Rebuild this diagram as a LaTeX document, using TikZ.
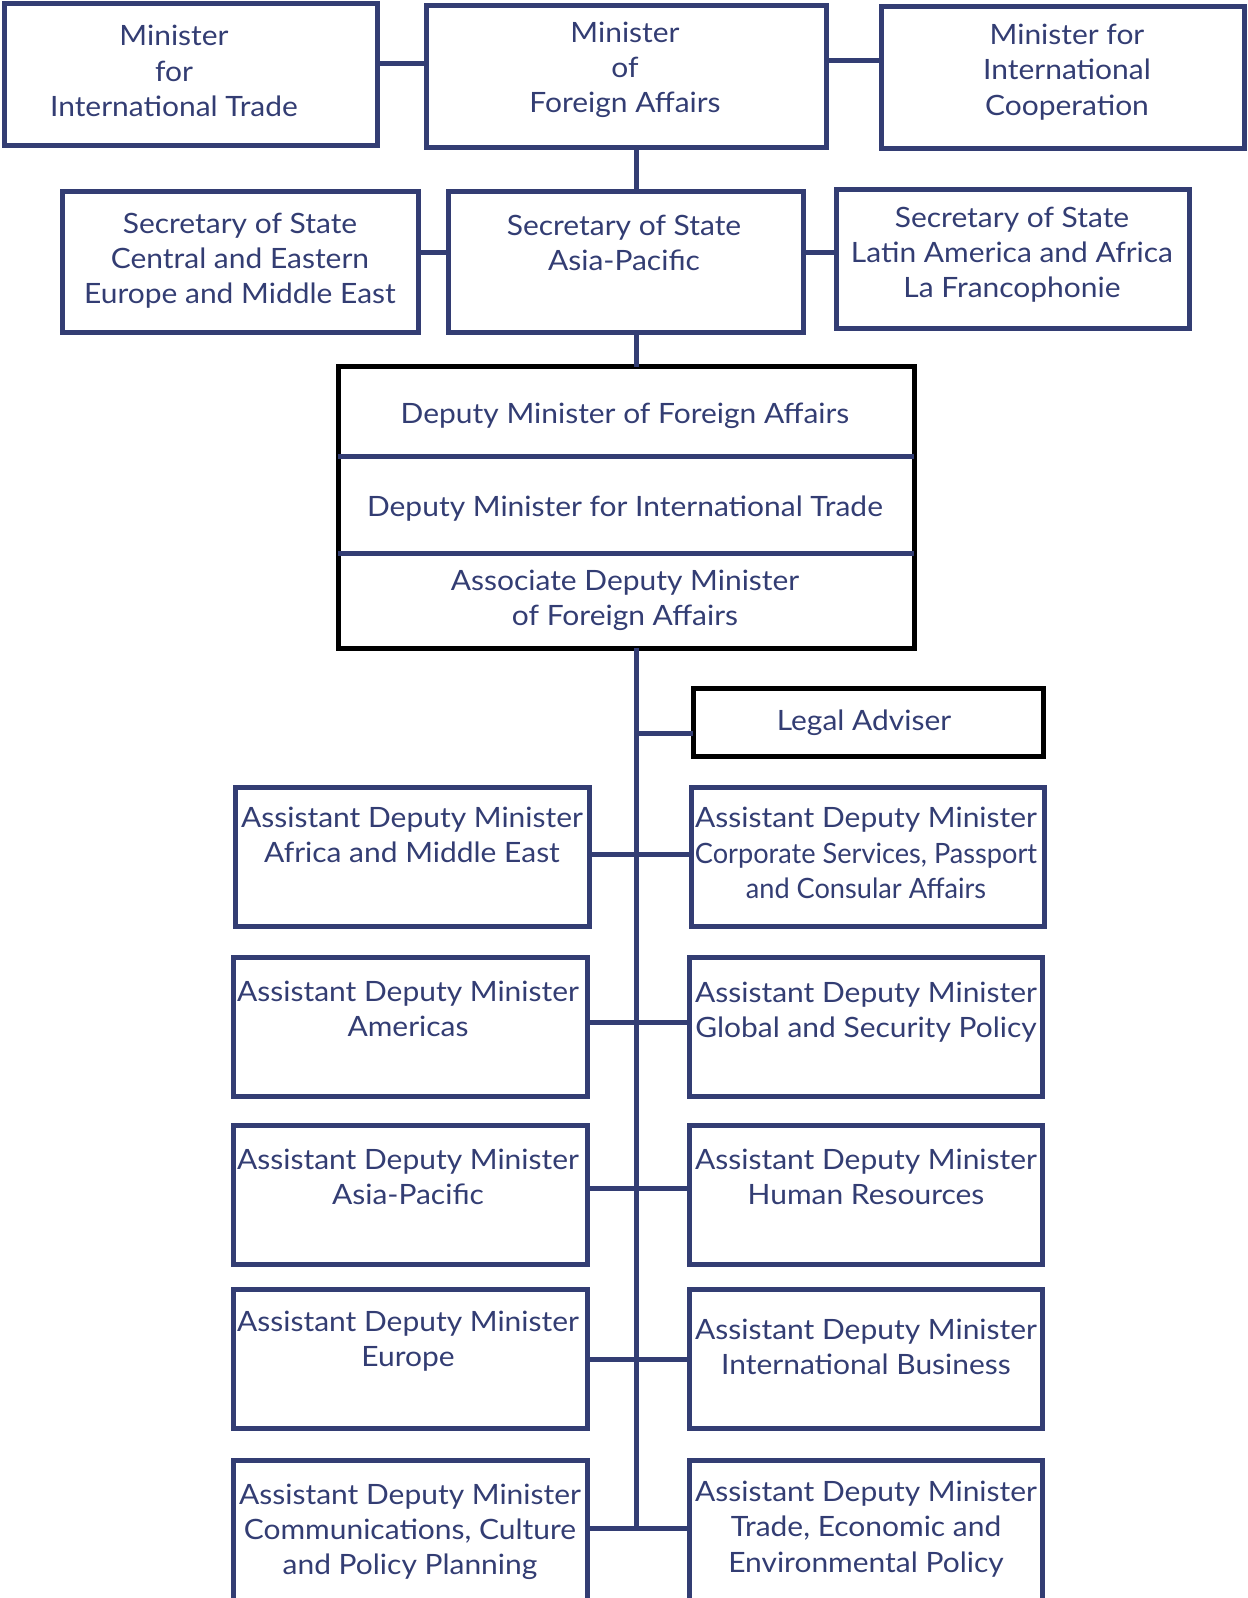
\documentclass[tikz,border=0pt]{standalone}
\usepackage{fontspec}
\setmainfont[FakeStretch=1.07]{Lato}
\newfontfamily\condfont[FakeStretch=0.97]{Lato}
\usetikzlibrary{fit}
\definecolor{navy}{RGB}{51,61,115}
\tikzset{
 orgbox/.style={draw=navy, line width=2.5pt, inner sep=0pt, outer sep=0pt},
 blkbox/.style={draw=black, line width=2.5pt, inner sep=0pt, outer sep=0pt},
 lbl/.style={text=navy, align=center, font=\fontsize{14}{17.6}\selectfont, inner sep=0pt, yshift=-1.5pt},
 conn/.style={draw=navy, line width=2.5pt},
}
\newcommand\mkbox[6]{\path (#2,#3) coordinate (#1a) (#4,#5) coordinate (#1b); \node[#6, fit=(#1a)(#1b)] (#1) {};}
\begin{document}
\begin{tikzpicture}[x=0.5pt,y=-0.5pt]
\useasboundingbox (0,0) rectangle (1247,1598);
\coordinate (spx) at (636,0);
% top row
\mkbox{mA}{4}{4}{377}{146}{orgbox}
\mkbox{mB}{426}{6}{826}{148}{orgbox}
\mkbox{mC}{881}{7}{1244}{149}{orgbox}
\node[lbl] (mAt) at (174,68) {Minister\\for\\International Trade};
\node[lbl] (mBt) at (625,67) {Minister\\of\\Foreign Affairs};
\node[lbl] (mCt) at (1067,69) {Minister for\\International\\Cooperation};
% secretaries of state
\mkbox{sA}{62}{192}{418}{333}{orgbox}
\mkbox{sB}{448}{192}{803}{333}{orgbox}
\mkbox{sC}{836}{190}{1189}{329}{orgbox}
\node[lbl] (sAt) at (240,258) {Secretary of State\\Central and Eastern\\Europe and Middle East};
\node[lbl] (sBt) at (624,240) {Secretary of State\\Asia-Pacific};
\node[lbl] (sCt) at (1012,252) {Secretary of State\\Latin America and Africa\\La Francophonie};
% deputy box
\mkbox{dep}{338}{367}{914}{648}{blkbox}
\node[lbl] (dAt) at (625,413) {Deputy Minister of Foreign Affairs};
\node[lbl] (dBt) at (625,506) {Deputy Minister for International Trade};
\node[lbl] (dCt) at (625,597) {Associate Deputy Minister\\of Foreign Affairs};
% legal
\mkbox{legal}{693}{688}{1043}{756}{blkbox}
\node[lbl] (legalt) at (864,720) {Legal Adviser};
% left column
\mkbox{LA}{235}{787}{589}{926}{orgbox}
\mkbox{LB}{233}{957}{587}{1096}{orgbox}
\mkbox{LC}{233}{1125}{587}{1264}{orgbox}
\mkbox{LD}{233}{1289}{587}{1428}{orgbox}
\mkbox{LE}{233}{1460}{587}{1604}{orgbox}
\node[lbl] (LAt) at (412,832) {Assistant Deputy Minister\\Africa and Middle East};
\node[lbl] (LBt) at (408,1006) {Assistant Deputy Minister\\Americas};
\node[lbl] (LCt) at (408,1174) {Assistant Deputy Minister\\Asia-Pacific};
\node[lbl] (LDt) at (408,1338) {Assistant Deputy Minister\\Europe};
\node[lbl] (LEt) at (410,1529) {Assistant Deputy Minister\\Communications, Culture\\and Policy Planning};
% right column
\mkbox{RA}{691}{787}{1044}{926}{orgbox}
\mkbox{RB}{689}{957}{1042}{1096}{orgbox}
\mkbox{RC}{689}{1125}{1042}{1264}{orgbox}
\mkbox{RD}{689}{1289}{1042}{1428}{orgbox}
\mkbox{RE}{689}{1460}{1042}{1604}{orgbox}
\node[lbl] (RAt) at (866,850) {Assistant Deputy Minister\\{\condfont Corporate Services, Passport}\\{\condfont and Consular Affairs}};
\node[lbl] (RBt) at (866,1009) {Assistant Deputy Minister\\Global and Security Policy};
\node[lbl] (RCt) at (866,1174) {Assistant Deputy Minister\\Human Resources};
\node[lbl] (RDt) at (866,1344) {Assistant Deputy Minister\\International Business};
\node[lbl] (REt) at (866,1526) {Assistant Deputy Minister\\Trade, Economic and\\Environmental Policy};
% connectors
\draw[conn] (mA.east |- 0,64) -- (mB.west |- 0,64);
\draw[conn] (mB.east |- 0,61) -- (mC.west |- 0,61);
\draw[conn] (mB.south -| spx) -- (sB.north -| spx);
\draw[conn] (sA.east |- 0,253) -- (sB.west |- 0,253);
\draw[conn] (sB.east |- 0,253) -- (sC.west |- 0,253);
\draw[conn] (sB.south -| spx) -- (dep.north -| spx);
\coordinate (spend) at (636,1528);
\draw[conn] (dep.south -| spx) -- (spend);
\draw[conn] (dep.west |- 0,457) -- (dep.east |- 0,457);
\draw[conn] (dep.west |- 0,553) -- (dep.east |- 0,553);
\draw[conn] (spx |- 0,733) -- (legal.west |- 0,733);
\draw[conn] (LA.east |- 0,854) -- (RA.west |- 0,854);
\draw[conn] (LB.east |- 0,1022) -- (RB.west |- 0,1022);
\draw[conn] (LC.east |- 0,1188) -- (RC.west |- 0,1188);
\draw[conn] (LD.east |- 0,1359) -- (RD.west |- 0,1359);
\draw[conn] (LE.east |- 0,1528) -- (RE.west |- 0,1528);
\end{tikzpicture}
\end{document}
